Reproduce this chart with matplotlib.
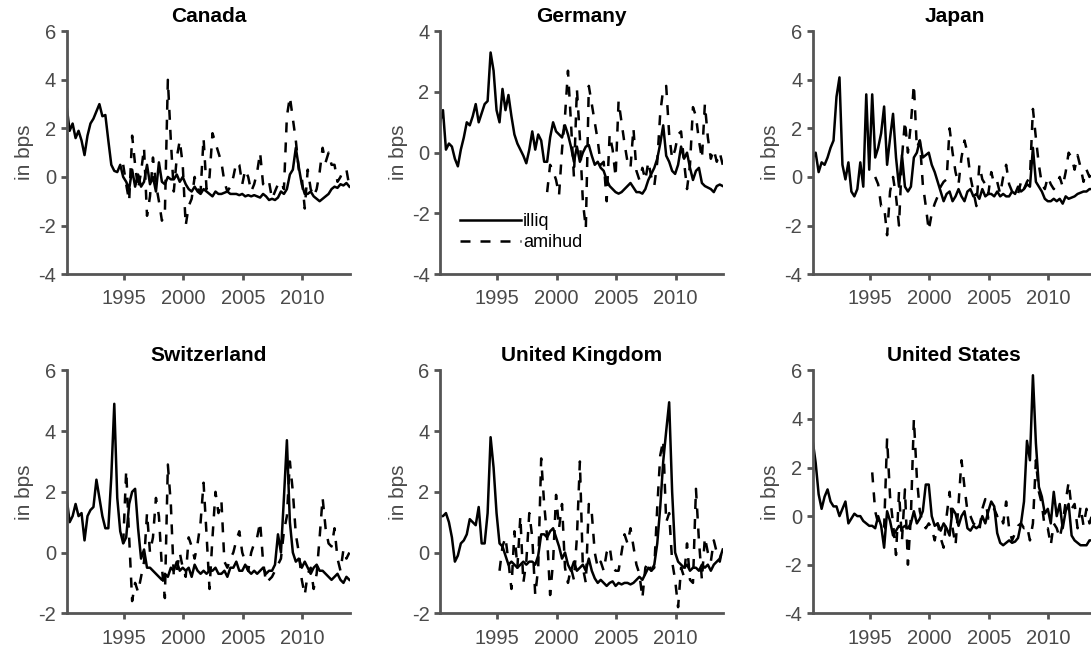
import matplotlib.pyplot as plt
import numpy as np

plt.rcParams['font.family'] = ['Liberation Sans', 'DejaVu Sans']
plt.rcParams['axes.unicode_minus'] = False

nan = np.nan
# quarterly observations, Mar 1990 .. Dec 2013
dates = 1990.2 + 0.25 * np.arange(96)

can_illiq = [2.9, 1.9, 2.2, 1.6,  1.9, 1.5, 0.9, 1.7,  2.2, 2.4, 2.7, 3.0,  2.5, 2.55, 1.5, 0.5,
             0.25, 0.2, 0.5, 0.0,  -0.2, -0.5, 0.3, -0.4,  0.1, -0.4, -0.2, 0.5,  -0.3, 0.0, -0.6, 0.6,
             -0.2, -0.3, 0.0, -0.1,  -0.1, 0.1, -0.2, 0.0,  -0.3, -0.5, -0.6, -0.4,  -0.6, -0.7, -0.5, -0.6,
             -0.7, -0.8, -0.6, -0.7,  -0.7, -0.65, -0.6, -0.7,  -0.7, -0.7, -0.75, -0.7,  -0.8, -0.75, -0.8, -0.75,
             -0.8, -0.85, -0.7, -0.8,  -0.95, -0.9, -0.95, -0.85,  -0.6, -0.7, -0.5, 0.1,  0.3, 1.2, 0.4, -0.3,
             -0.7, -0.7, -0.6, -0.8,  -0.9, -1.0, -0.9, -0.8,  -0.7, -0.5, -0.4, -0.45,  -0.3, -0.35, -0.25, -0.4]
can_amihud = [nan] * 16 + [
             nan, nan, nan, 0.5,  -0.3, -1.0, 1.7, 0.5,  -0.5, 0.2, 1.2, -1.6,  -0.8, 0.8, -0.3, -1.0,
             -1.8, -1.5, 4.0, 1.5,  -0.6, 0.8, 1.5, 0.5,  -2.0, -1.2, -0.9, 0.0,  -0.5, -0.6, 1.6, -0.5,
             0.0, 1.8, 1.4, 1.0,  0.6, -0.2, -0.6, -0.4,  0.0, 0.6, 0.5, -0.3,  0.3, 0.0, -0.6, -0.3,
             0.2, 1.0, -0.3, -0.4,  -0.2, -0.9, -0.6, -0.3,  -0.2, -0.5, 2.5, 3.3,  2.4, 1.5, 0.3, 0.0,
             -1.3, 0.3, -0.5, -0.8,  -0.5, 0.2, 1.2, 0.6,  1.0, 0.5, 0.5, -0.2,  0.0, 0.3, 0.3, -0.4]

deu_illiq = [1.0, 1.4, 0.1, 0.3,  0.2, -0.2, -0.45, 0.1,  0.5, 1.0, 0.9, 1.2,  1.6, 1.0, 1.3, 1.6,
             1.7, 3.3, 2.7, 1.4,  1.0, 2.1, 1.4, 1.9,  1.2, 0.6, 0.3, 0.1,  -0.1, -0.35, 0.1, 0.7,
             0.1, 0.6, 0.4, -0.3,  -0.3, 0.5, 1.0, 0.7,  0.6, 0.5, 0.9, 0.6,  0.2, -0.3, 0.2, -0.3,
             0.0, 0.2, 0.25, -0.1,  -0.4, -0.3, -0.5, -0.6,  -0.9, -1.1, -1.2, -1.3,  -1.35, -1.3, -1.2, -1.1,
             -1.0, -1.15, -1.3, -1.3,  -1.35, -1.2, -0.9, -0.7,  -0.5, -0.2, 0.3, 0.9,  -0.1, -0.3, -0.6, -0.7,
             -0.4, 0.2, -0.2, 0.0,  -0.5, -0.9, -0.6, -0.5,  -1.0, -1.1, -1.15, -1.2,  -1.3, -1.1, -1.05, -1.1]
deu_amihud = [nan] * 36 + [
             -1.3, -0.4, -0.6, -0.9,  -1.4, 0.1, 1.2, 2.7,  1.0, -0.8, 2.1, 0.5,  -1.6, -2.5, 2.2, 1.6,
             1.0, 0.4, -0.4, -0.3,  -1.6, 0.6, 0.1, -0.8,  1.7, 1.0, 0.3, -0.3,  -0.5, 0.8, -0.6, -0.9,
             -0.5, -0.9, -0.3, -0.8,  -1.1, -0.3, 1.3, 2.1,  2.2, 0.6, -0.2, 0.1,  0.6, 0.7, -0.3, -1.2,
             -0.4, 1.5, 1.2, 0.4,  -0.2, 1.6, 0.5, -0.2,  0.1, -0.3, 0.0, -0.4]

jpn_illiq = [0.8, 1.0, 0.2, 0.6,  0.5, 0.8, 1.2, 1.5,  3.3, 4.1, 0.5, -0.1,  0.6, -0.6, -0.8, -0.5,
             0.6, -0.4, 3.4, 0.3,  3.4, 0.8, 1.2, 1.8,  2.9, 0.5, 1.6, 2.6,  0.8, -0.4, 0.9, -0.4,
             -0.6, -0.4, 0.8, 1.0,  1.5, 0.8, 0.9, 1.0,  0.5, 0.2, -0.2, -0.6,  -1.0, -0.7, -0.6, -1.0,
             -0.8, -0.5, -0.8, -1.0,  -0.6, -0.5, -0.8, -0.7,  -0.9, -0.5, -0.8, -0.7,  -0.7, -0.8, -0.6, -0.8,
             -0.7, -0.8, -0.8, -0.6,  -0.7, -0.4, -0.6, -0.5,  -0.3, -0.4, 1.2, -0.2,  -0.4, -0.6, -0.9, -1.0,
             -1.0, -0.9, -1.0, -0.9,  -1.1, -0.8, -0.9, -0.85,  -0.8, -0.7, -0.65, -0.6,  -0.6, -0.5, -0.5, -0.5]
jpn_amihud = [nan] * 20 + [
             nan, 0.0, -0.3, -1.2,  -1.2, -2.4, -0.6, 0.0,  -0.8, -2.0, 0.8, 2.3,  1.0, 2.2, 3.8, 1.2,
             1.5, -0.3, -1.2, -2.2,  -1.5, -1.1, -0.8, -0.4,  -0.2, -0.1, 2.0, 1.0,  0.2, -0.3, 0.8, 1.5,
             1.0, 0.0, -0.6, -1.2,  0.5, -0.1, -0.3, -0.7,  0.2, -0.3, -0.2, -0.7,  0.0, 0.5, -0.3, -0.6,
             -0.5, -0.7, -0.2, -0.5,  -0.2, 0.0, 2.8, 1.6,  0.5, -0.3, -0.5, 0.0,  -0.3, -0.5, -0.3, 0.0,
             -0.4, 0.2, 1.0, 0.8,  0.3, 0.9, 0.4, -0.2,  0.3, 0.0, 0.2, -0.1]

che_illiq = [1.8, 1.0, 1.2, 1.6,  1.2, 1.3, 0.4, 1.2,  1.4, 1.5, 2.4, 1.8,  1.2, 0.8, 0.8, 2.5,
             4.9, 1.8, 0.7, 0.3,  0.5, 1.6, 2.0, 2.1,  0.8, -0.2, 0.1, -0.5,  -0.5, -0.6, -0.7, -0.8,
             -0.9, -0.7, -0.8, -0.5,  -0.6, -0.3, -0.6, -0.5,  -0.6, -0.5, -0.8, -0.4,  -0.6, -0.7, -0.6, -0.7,
             -0.6, -0.6, -0.5, -0.7,  -0.7, -0.6, -0.8, -0.5,  -0.5, -0.3, -0.6, -0.6,  -0.4, -0.6, -0.7, -0.6,
             -0.7, -0.6, -0.5, -0.7,  -0.6, -0.6, -0.4, 0.6,  0.0, 1.8, 3.7, 1.0,  0.0, -0.3, -0.2, -0.5,
             -0.3, -0.5, -0.7, -0.5,  -0.4, -0.6, -0.6, -0.7,  -0.8, -0.9, -0.8, -0.7,  -0.9, -1.0, -0.8, -0.9]
che_amihud = [nan] * 16 + [
             nan, nan, nan, 0.3,  2.7, 0.5, -1.6, -1.0,  -1.3, -0.8, -0.3, 1.3,  0.0, 0.5, 1.8, 1.2,
             -0.5, -1.5, 2.9, 1.6,  -0.8, -0.6, 0.0, -0.5,  -0.8, 0.5, 0.2, -0.2,  0.3, 1.0, 2.3, 0.6,
             -1.2, 0.5, 2.0, 1.3,  1.7, -0.3, -0.5, -0.2,  0.0, 0.4, 0.7, 0.0,  -0.3, -0.6, 0.0, 0.3,
             0.5, 1.0, -0.3, -1.0,  -0.9, -0.8, -0.6, -0.4,  -0.2, 0.7, 1.2, 3.0,  2.0, 0.6, 0.0, -0.9,
             -1.4, -0.7, -0.5, -1.2,  -0.7, 0.5, 1.8, 0.8,  0.3, 0.2, 0.8, -0.2,  -0.6, 0.1, -0.2, 0.0]

gbr_illiq = [1.2, 1.2, 1.3, 1.0,  0.5, -0.3, -0.1, 0.3,  0.4, 0.6, 1.1, 1.0,  0.9, 1.5, 0.3, 0.3,
             1.3, 3.8, 2.8, 1.3,  0.3, 0.2, -0.1, -0.4,  -0.3, -0.4, -0.5, -0.4,  -0.3, -0.4, -0.3, -0.3,
             -0.4, -0.1, 0.6, 0.6,  0.5, 0.7, 0.8, 0.5,  0.2, -0.2, 0.0, -0.4,  -0.6, -0.3, -0.6, -0.5,
             -0.4, -0.6, -0.2, -0.6,  -0.85, -1.0, -0.9, -1.0,  -1.1, -1.0, -0.95, -1.1,  -1.0, -1.05, -1.0, -1.0,
             -1.05, -1.0, -0.9, -0.8,  -0.9, -0.7, -0.5, -0.6,  -0.4, 0.3, 1.5, 3.0,  4.0, 4.95, 2.0, 0.0,
             -0.3, -0.4, -0.5, -0.4,  -0.6, -0.5, -0.5, -0.6,  -0.4, -0.5, -0.4, -0.6,  -0.4, -0.3, -0.2, 0.1]
gbr_amihud = [nan] * 20 + [
             -0.6, 0.2, 0.5, -0.3,  -1.2, 0.7, -0.5, 1.2,  -1.0, -0.3, 1.3, 0.5,  -1.4, -0.5, 3.1, 1.6,
             0.5, -1.4, -0.3, 1.9,  0.8, 1.6, -0.5, -1.0,  -0.5, -0.9, 0.5, 3.0,  -0.5, -1.0, 1.6, 1.3,
             0.0, -0.5, -0.3, -0.6,  0.0, 0.2, -0.5, -0.6,  -0.6, 0.0, 0.6, 0.3,  0.8, 0.2, -0.4, -0.7,
             -1.5, -0.5, -0.3, -0.6,  -0.5, 1.5, 3.2, 3.7,  1.0, 1.3, -0.3, -0.9,  -1.8, -0.5, -0.8, 0.3,
             -0.9, -1.0, 2.1, 0.4,  -0.9, 0.5, 0.0, -0.3,  0.4, 0.0, -0.3, 0.2]

usa_illiq = [3.1, 2.2, 0.9, 0.3,  0.8, 1.1, 0.6, 0.4,  0.4, 0.0, 0.3, 0.6,  -0.3, -0.1, 0.1, 0.0,
             0.0, -0.2, -0.3, -0.4,  -0.4, -0.5, 0.0, -0.4,  -1.3, 0.2, -0.2, -0.8,  -0.6, -0.4, -0.5, -0.4,
             -0.5, -0.3, 0.2, -0.3,  -0.1, 0.2, 1.3, 1.3,  0.0, -0.4, -0.3, -0.6,  -0.3, -0.5, -0.8, 0.3,
             0.1, -0.4, 0.0, 0.2,  -0.5, -0.6, -0.4, -0.5,  -0.4, 0.0, -0.3, 0.2,  0.6, 0.4, -0.7, -1.1,
             -1.2, -1.1, -1.0, -1.1,  -1.05, -0.9, -0.3, 0.6,  3.1, 2.3, 5.8, 3.0,  1.2, 0.8, 0.1, 0.3,
             -0.3, 1.0, 0.0, 0.5,  -0.5, 0.2, 0.5, -0.8,  -1.0, -1.1, -1.2, -1.2,  -1.2, -1.0, -1.0, -1.0]
usa_amihud = [nan] * 20 + [
             1.8, 0.2, -0.3, -0.5,  -0.5, 3.2, 0.8, -0.3,  -1.6, 1.0, -1.0, 1.1,  -2.0, 0.0, 4.0, 1.6,
             0.2, -0.3, -0.5, -0.3,  -0.5, -1.0, -0.3, -0.9,  -1.3, 0.0, 1.0, -0.5,  -1.2, 0.5, 2.3, 1.2,
             0.2, 0.0, -0.3, -0.4,  -0.6, 0.3, 0.7, -0.1,  0.0, 0.3, 0.0, 0.1,  -0.3, 0.6, -0.5, -1.0,
             -0.7, -0.4, -0.3, -0.5,  -0.4, -1.0, -0.3, 2.3,  1.0, 0.5, -0.5, -0.5,  -1.2, -0.3, -0.5, -0.9,
             -0.3, 0.6, 1.4, 0.3,  0.5, -0.5, 0.4, -0.4,  0.3, -0.3, 0.1, -0.2]

titles = ['Canada', 'Germany', 'Japan', 'Switzerland', 'United Kingdom', 'United States']
illiq = [can_illiq, deu_illiq, jpn_illiq, che_illiq, gbr_illiq, usa_illiq]
amihud = [can_amihud, deu_amihud, jpn_amihud, che_amihud, gbr_amihud, usa_amihud]
ylims = [(-4, 6), (-4, 4), (-4, 6), (-2, 6), (-2, 6), (-4, 6)]

fig = plt.figure(figsize=(10.91, 6.51), dpi=100)
lefts = [0.0611, 0.4033, 0.7449]
bottoms = [0.579, 0.058]
txt = '#4a4a4a'
axc = '#555555'

for i in range(6):
    ax = fig.add_axes([lefts[i % 3], bottoms[i // 3], 0.2597, 0.373])
    ax.plot(dates, illiq[i], color='black', lw=1.8, label='illiq')
    ax.plot(dates, amihud[i], color='black', lw=1.8, ls=(0, (4, 4)), label='amihud')
    ax.set_xlim(1990.2, 2014.0)
    ax.set_ylim(*ylims[i])
    ax.set_xticks([1995, 2000, 2005, 2010])
    ax.set_yticks(np.arange(ylims[i][0], ylims[i][1] + 1, 2))
    ax.spines['top'].set_visible(False)
    ax.spines['right'].set_visible(False)
    for s in ['left', 'bottom']:
        ax.spines[s].set_linewidth(2.0)
        ax.spines[s].set_color(axc)
    ax.tick_params(axis='both', direction='out', length=4, width=2.0, color=axc,
                   labelsize=14.5, labelcolor=txt)
    ax.tick_params(axis='x', pad=7)
    ax.tick_params(axis='y', pad=3.5)
    ax.set_title(titles[i], fontsize=15, fontweight='bold', pad=6.5)
    ax.set_ylabel('in bps', fontsize=15, color=txt, labelpad=3)
    if i == 1:
        ax.legend(loc='upper left', bbox_to_anchor=(0.07, 0.25), frameon=False,
                  fontsize=13, handlelength=3.4, handletextpad=0.1, borderpad=0,
                  borderaxespad=0, labelspacing=0.2)

fig.savefig('out.png', dpi=100)
